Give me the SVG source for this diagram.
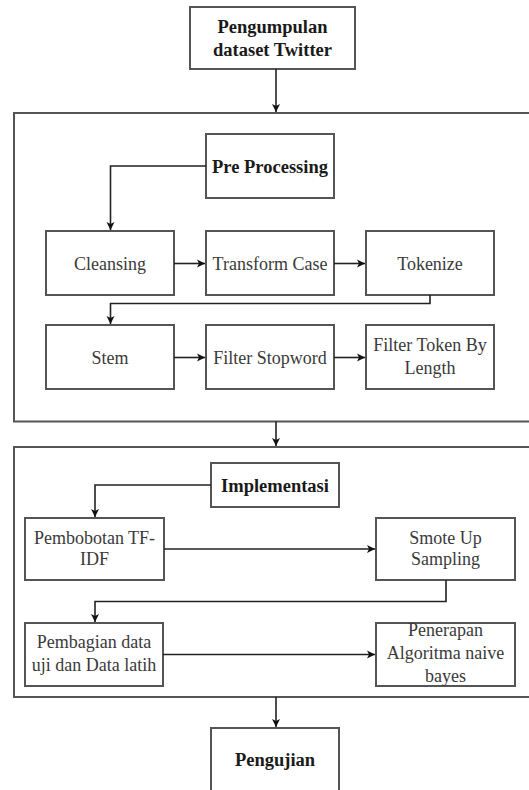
<svg xmlns="http://www.w3.org/2000/svg" width="529" height="790" viewBox="0 0 529 790">
<defs>
<marker id="ah" markerWidth="10" markerHeight="10" refX="9" refY="5" orient="auto" markerUnits="userSpaceOnUse">
<path d="M1,1 L9,5 L1,9 L3,5 Z" fill="#111"/>
</marker>
<style>
.box{fill:#fff;stroke:#555;stroke-width:2}
.frame{fill:none;stroke:#555;stroke-width:2}
.t{font-size:18px;fill:#3a3a3a;text-anchor:middle}
.b{font-size:18.5px;font-weight:bold;fill:#1a1a1a;text-anchor:middle}
.c{fill:none;stroke:#222;stroke-width:1.6;marker-end:url(#ah)}
</style>
</defs>
<rect width="529" height="790" fill="#fff"/>
<g id="frames">
<rect class="frame" x="14" y="113" width="530" height="308.5"/>
<rect class="frame" x="14" y="447" width="530" height="250"/>
</g>
<g font-family="Liberation Serif, Times New Roman, DejaVu Serif, serif">
<g id="n-pengumpulan"><rect class="box" x="190" y="7" width="165" height="62"/>
<text class="b" x="272.5" y="33">Pengumpulan</text><text class="b" x="272.5" y="56">dataset Twitter</text></g>
<g id="n-preprocessing"><rect class="box" x="206" y="134" width="128" height="64"/><text class="b" x="270" y="172.5">Pre Processing</text></g>
<g id="n-cleansing"><rect class="box" x="46" y="231" width="128" height="64"/><text class="t" x="110" y="269.5">Cleansing</text></g>
<g id="n-transform"><rect class="box" x="206" y="231" width="128" height="64"/><text class="t" x="270" y="269.5">Transform Case</text></g>
<g id="n-tokenize"><rect class="box" x="366" y="231" width="128" height="64"/><text class="t" x="430" y="269.5">Tokenize</text></g>
<g id="n-stem"><rect class="box" x="46" y="325" width="128" height="64"/><text class="t" x="110" y="363.5">Stem</text></g>
<g id="n-stopword"><rect class="box" x="206" y="325" width="128" height="64"/><text class="t" x="270" y="363.5">Filter Stopword</text></g>
<g id="n-length"><rect class="box" x="366" y="325" width="128" height="64"/><text class="t" x="430" y="351">Filter Token By</text><text class="t" x="430" y="374">Length</text></g>
<g id="n-implementasi"><rect class="box" x="211" y="463" width="128" height="44"/><text class="b" x="275" y="492">Implementasi</text></g>
<g id="n-tfidf"><rect class="box" x="25" y="518" width="139" height="62"/><text class="t" x="94.5" y="544">Pembobotan TF-</text><text class="t" x="94.5" y="565">IDF</text></g>
<g id="n-smote"><rect class="box" x="376" y="518" width="139" height="62"/><text class="t" x="445.5" y="544">Smote Up</text><text class="t" x="445.5" y="565">Sampling</text></g>
<g id="n-pembagian"><rect class="box" x="25" y="623" width="138" height="63"/><text class="t" x="94" y="648">Pembagian data</text><text class="t" x="94" y="671">uji dan Data latih</text></g>
<g id="n-penerapan"><rect class="box" x="376" y="623" width="139" height="63"/><text class="t" x="445.5" y="636">Penerapan</text><text class="t" x="445.5" y="659">Algoritma naive</text><text class="t" x="445.5" y="682">bayes</text></g>
<g id="n-pengujian"><rect class="box" x="211" y="728" width="128" height="80"/><text class="b" x="275" y="766">Pengujian</text></g>
</g>
<g id="connectors">
<path class="c" d="M276,69 L276,112"/>
<path class="c" d="M206,166 L110.5,166 L110.5,230"/>
<path class="c" d="M174,263.5 L205,263.5"/>
<path class="c" d="M334,263.5 L365,263.5"/>
<path class="c" d="M430,295 L430,303.5 L110.5,303.5 L110.5,324"/>
<path class="c" d="M174,357.5 L205,357.5"/>
<path class="c" d="M334,357.5 L365,357.5"/>
<path class="c" d="M276,421.5 L276,446"/>
<path class="c" d="M211,485 L95,485 L95,517"/>
<path class="c" d="M164,549 L375,549"/>
<path class="c" d="M446,580 L446,601.5 L95,601.5 L95,622"/>
<path class="c" d="M163,654.5 L375,654.5"/>
<path class="c" d="M276,697 L276,727"/>
</g>
</svg>
